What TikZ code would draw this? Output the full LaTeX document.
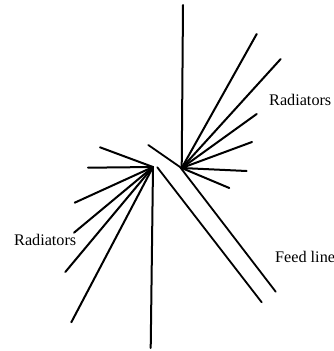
\documentclass[tikz,border=0pt]{standalone}
\usepackage{fontspec}
\setmainfont{Liberation Serif}
\tikzset{
  px/.style={x=1pt,y=-1pt},
  wire/.style={draw=black,line width=2pt,line cap=round},
  feed/.style={draw=black,line width=1.8pt,line cap=round},
  lbl/.style={font=\fontsize{16.2}{18}\selectfont,inner sep=0pt,anchor=mid west,text=black}
}
\begin{document}
\begin{tikzpicture}[px]
\useasboundingbox (0,0) rectangle (334,351);
\coordinate (hubR) at (181.7,168);
\coordinate (hubL) at (153,167);
\foreach \n/\p in {a/{183,5},b/{256.7,34},c/{280.7,59},d/{256.7,114},e/{252,142},f/{246.7,171},g/{229.3,188}}{
  \coordinate (r\n) at (\p);
  \draw[wire] (hubR) -- (r\n);
}
\foreach \n/\p in {a/{100,147.3},b/{88,167.7},c/{74.7,202.7},d/{74,232.7},e/{65.3,272},f/{71.3,322.3},g/{150.7,348}}{
  \coordinate (l\n) at (\p);
  \draw[wire] (hubL) -- (l\n);
}
\coordinate (fa) at (148.3,145);
\coordinate (fb) at (275.7,291.7);
\coordinate (fc) at (157.3,167.3);
\coordinate (fd) at (261.7,302.3);
\draw[feed] (fa) -- (180,167) -- (fb);
\draw[feed] (fc) -- (fd);
\node[lbl] (radR) at (269,103) {Radiators};
\node[lbl] (radL) at (14,243.5) {Radiators};
\node[lbl] (feedl) at (275,260.5) {Feed line};
\end{tikzpicture}
\end{document}
